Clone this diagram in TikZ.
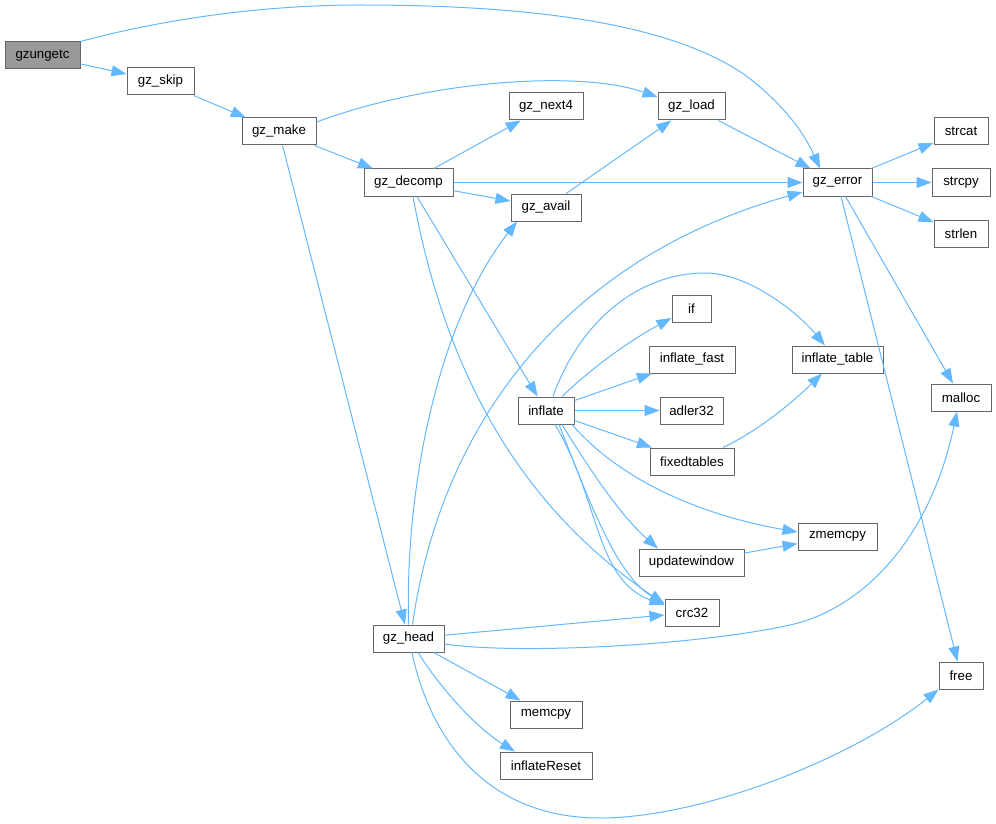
\documentclass[tikz,border=0pt]{standalone}
\usepackage{fontspec}
\setmainfont{Liberation Sans}
\usetikzlibrary{arrows.meta,calc}
\definecolor{edgeblue}{HTML}{63B8FF}
\definecolor{boxgray}{HTML}{666666}
\definecolor{rootfill}{HTML}{999999}
\begin{document}
\begin{tikzpicture}[x=1pt,y=-1pt,
  fn/.style={draw=boxgray,line width=1pt,fill=white,rectangle,minimum height=27pt,inner sep=0pt,
    font=\fontsize{13.3}{16}\selectfont},
  root/.style={fn,fill=rootfill},
  call/.style={draw=edgeblue,line width=1pt,-{Triangle[length=15pt,width=11pt]},fill=none}]
\useasboundingbox (0,0) rectangle (996,824);
% nodes
\node[root,minimum width=75pt] (gzungetc) at (42.5,55.5) {gzungetc};
\node[fn,minimum width=67pt] (gzskip) at (160.5,81.5) {gz\_skip};
\node[fn,minimum width=74pt] (gzmake) at (279,131.5) {gz\_make};
\node[fn,minimum width=89pt] (gzdecomp) at (408.5,182.5) {gz\_decomp};
\node[fn,minimum width=74pt] (gznext4) at (546,106.5) {gz\_next4};
\node[fn,minimum width=70pt] (gzavail) at (546,207.5) {gz\_avail};
\node[fn,minimum width=67pt] (gzload) at (691.5,106.5) {gz\_load};
\node[fn,minimum width=69pt] (gzerror) at (837.5,182.5) {gz\_error};
\node[fn,minimum width=54pt] (strcat) at (961,131.5) {strcat};
\node[fn,minimum width=58pt] (strcpy) at (961,182.5) {strcpy};
\node[fn,minimum width=54pt] (strlen) at (961,233.5) {strlen};
\node[fn,minimum width=39pt] (if) at (691.5,308.5) {if};
\node[fn,minimum width=86pt] (inflatefast) at (692,359.5) {inflate\_fast};
\node[fn,minimum width=91pt] (inflatetable) at (837.5,359.5) {inflate\_table};
\node[fn,minimum width=56pt] (inflate) at (546,410.5) {inflate};
\node[fn,minimum width=63pt] (adler) at (691.5,410.5) {adler32};
\node[fn,minimum width=60pt] (malloc) at (961,397.5) {malloc};
\node[fn,minimum width=84pt] (fixedtables) at (692,461.5) {fixedtables};
\node[fn,minimum width=79pt] (zmemcpy) at (837.5,536.5) {zmemcpy};
\node[fn,minimum width=105pt] (updatewindow) at (691.5,562.5) {updatewindow};
\node[fn,minimum width=54pt] (crc) at (692,612.5) {crc32};
\node[fn,minimum width=71pt] (gzhead) at (408.5,638.5) {gz\_head};
\node[fn,minimum width=44pt] (free) at (961,675.5) {free};
\node[fn,minimum width=72pt] (memcpy) at (546,714.5) {memcpy};
\node[fn,minimum width=92pt] (inflatereset) at (546,765.5) {inflateReset};
% edges
\draw[call] (gzungetc) -- (gzskip);
\draw[call] (gzungetc.north east) .. controls (160,20) and (260,5) .. (360,5)
  .. controls (560,5) and (680,30) .. (745,75)
  .. controls (785,105) and (805,135) .. ($(gzerror.north)+(-17.5,0)$);
\draw[call] (gzskip) -- (gzmake);
\draw[call] ($(gzmake.east)+(0,-9.5)$) .. controls (430,80) and (580,70) .. ($(gzload.west)+(0,-9.5)$);
\draw[call] (gzmake) -- (gzdecomp);
\draw[call] (gzmake) -- (gzhead);
\draw[call] (gzdecomp) -- (gznext4);
\draw[call] (gzdecomp) -- (gzerror);
\draw[call] (gzdecomp) -- (gzavail);
\draw[call] (gzdecomp) -- (inflate);
\draw[call] ($(gzdecomp.south)+(4.5,0)$) .. controls (450,400) and (540,520) .. ($(crc.west)+(0,-8.5)$);
\draw[call] (gzavail) -- (gzload);
\draw[call] (gzload) -- (gzerror);
\draw[call] (gzerror) -- (strcat);
\draw[call] (gzerror) -- (strcpy);
\draw[call] (gzerror) -- (strlen);
\draw[call] (gzerror) -- (malloc);
\draw[call] (gzerror) -- (free);
\draw[call] (gzhead.north) .. controls (405,480) and (440,320) .. ($(gzavail.south)+(-29,0)$);
\draw[call] ($(gzhead.north)+(4,0)$) .. controls (440,430) and (560,260) .. ($(gzerror.west)+(0,9.5)$);
\draw[call] (gzhead) -- (crc);
\draw[call] ($(gzhead.east)+(0,5.5)$) .. controls (520,655) and (700,645) .. (790,625)
  .. controls (862,609) and (930,540) .. ($(malloc.south)+(-4,0)$);
\draw[call] ($(gzhead.south)+(3.5,0)$) .. controls (428,730) and (480,818) .. (600,818)
  .. controls (700,818) and (850,760) .. (free.south west);
\draw[call] (gzhead) -- (memcpy);
\draw[call] ($(gzhead.south)+(9.5,0)$) .. controls (445,695) and (480,730) .. ($(inflatereset.north)+(-31,0)$);
\draw[call] ($(inflate.north)+(16,0)$) .. controls (600,360) and (640,335) .. ($(if.west)+(0,9.5)$);
\draw[call] (inflate) -- (inflatefast);
\draw[call] (inflate) -- (adler);
\draw[call] (inflate) -- (fixedtables);
\draw[call] ($(fixedtables.north)+(31,0)$) .. controls (760,430) and (795,400) .. ($(inflatetable.south)+(-15.5,0)$);
\draw[call] ($(inflate.north)+(7,0)$) .. controls (580,320) and (640,273) .. (705,273)
  .. controls (750,273) and (800,315) .. ($(inflatetable.north)+(-12.5,0)$);
\draw[call] ($(inflate.south)+(26,0)$) .. controls (620,480) and (700,515) .. ($(zmemcpy.west)+(0,-4.5)$);
\draw[call] ($(inflate.south)+(16,0)$) .. controls (590,470) and (620,515) .. ($(updatewindow.north)+(-33.5,0)$);
\draw[call] ($(inflate.south)+(9,0)$) .. controls (600,500) and (595,580) .. ($(crc.west)+(0,-7.5)$);
\draw[call] ($(inflate.south)+(13,0)$) .. controls (585,490) and (615,575) .. ($(crc.west)+(0,-9)$);
\draw[call] (updatewindow) -- (zmemcpy);
\end{tikzpicture}
\end{document}
